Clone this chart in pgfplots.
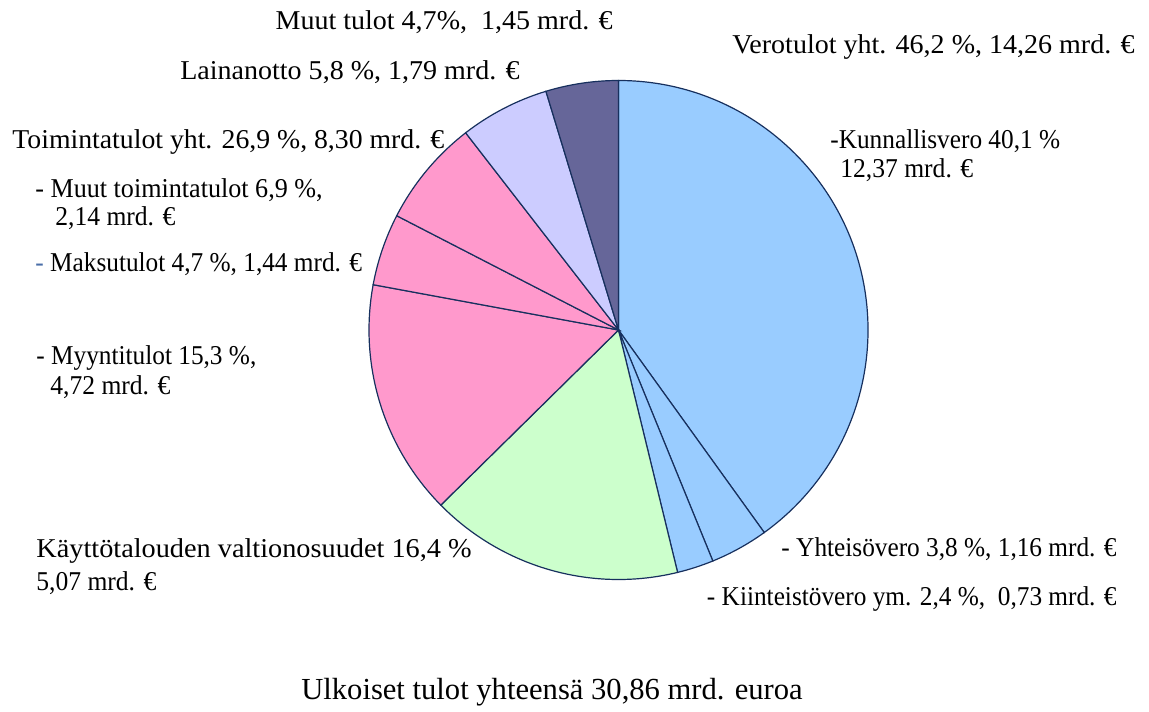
\documentclass[border=0pt]{standalone}
\usepackage{pgfplots}
\pgfplotsset{compat=1.18}
\usepackage{graphicx}
\usepackage{fontspec}
\setmainfont{Liberation Serif}
\definecolor{vero}{HTML}{99CCFF}
\definecolor{valt}{HTML}{CCFFCC}
\definecolor{toim}{HTML}{FF99CC}
\definecolor{laina}{HTML}{CCCCFF}
\definecolor{muut}{HTML}{666699}
\definecolor{edge}{HTML}{17305E}
\definecolor{dash}{HTML}{4A6EA8}
% values in mrd. euroa, clockwise from 12 o'clock
\def\pievalues{12.37,1.16,0.73,5.07,4.72,1.44,2.14,1.79,1.45}
\def\pietotal{30.87}
\newcount\piek
\def\piecum{0}
\expandafter\xdef\csname pieang0\endcsname{90}
\foreach \v in \pievalues {%
  \global\advance\piek by 1
  \pgfmathsetmacro{\newcum}{\piecum+\v}%
  \xdef\piecum{\newcum}%
  \pgfmathsetmacro{\a}{90-\newcum/\pietotal*360}%
  \expandafter\xdef\csname pieang\the\piek\endcsname{\a}%
}
\newcommand{\sector}[3]{% fill, from index, to index
  \filldraw[fill=#1, draw=edge, line width=0.6bp] (axis cs:618.5,330) -- ++(\csname pieang#2\endcsname:124.75bp)
    arc[start angle=\csname pieang#2\endcsname, end angle=\csname pieang#3\endcsname, radius=124.75bp] -- cycle;}
\newcommand{\sx}[2]{\scalebox{#1}[1]{#2}}
\begin{document}
\begin{tikzpicture}
\begin{axis}[x=0.5bp, y=0.5bp, y dir=reverse, xmin=0, xmax=1149, ymin=0, ymax=711,
  hide axis, clip=false, scale only axis]
\path (axis cs:0,0) (axis cs:1149,711);
\sector{vero}{0}{1}
\sector{vero}{1}{2}
\sector{vero}{2}{3}
\sector{valt}{3}{4}
\sector{toim}{4}{5}
\sector{toim}{5}{6}
\sector{toim}{6}{7}
\sector{laina}{7}{8}
\sector{muut}{8}{9}
\begin{scope}[every node/.style={inner sep=0pt, font=\fontsize{13.6bp}{16bp}\selectfont}]
\node[anchor=east] at (axis cs:613,22) {\sx{1.03}{Muut tulot 4,7\%,\ \ 1,45 mrd. €}};
\node[anchor=east] at (axis cs:1135,47) {\sx{1.03}{Verotulot yht. 46,2 \%, 14,26 mrd. €}};
\node[anchor=east] at (axis cs:520,72) {\sx{1.03}{Lainanotto 5,8 \%, 1,79 mrd. €}};
\node[anchor=west] at (axis cs:12,142) {\sx{1.02}{Toimintatulot yht. 26,9 \%, 8,30 mrd. €}};
\node[anchor=west] at (axis cs:830,141) {\sx{0.93}{-Kunnallisvero 40,1 \%}};
\node[anchor=west] at (axis cs:840,170) {\sx{0.94}{12,37 mrd. €}};
\node[anchor=west] at (axis cs:35,190) {\sx{0.96}{- Muut toimintatulot 6,9 \%,}};
\node[anchor=west] at (axis cs:55,218) {\sx{0.94}{2,14 mrd. €}};
\node[anchor=west] at (axis cs:35,264) {\sx{0.93}{{\color{dash}-} Maksutulot 4,7 \%, 1,44 mrd. €}};
\node[anchor=west] at (axis cs:36,358) {\sx{0.93}{- Myyntitulot 15,3 \%,}};
\node[anchor=west] at (axis cs:50,387) {\sx{0.94}{4,72 mrd. €}};
\node[anchor=west] at (axis cs:36,551) {\sx{1.04}{Käyttötalouden valtionosuudet 16,4 \%}};
\node[anchor=west] at (axis cs:36,583) {\sx{0.94}{5,07 mrd. €}};
\node[anchor=east] at (axis cs:1117,549) {\sx{0.93}{- Yhteisövero 3,8 \%, 1,16 mrd. €}};
\node[anchor=east] at (axis cs:1117,599) {\sx{0.93}{- Kiinteistövero ym. 2,4 \%,\ \ 0,73 mrd. €}};
\node[anchor=center, font=\fontsize{15.3bp}{18bp}\selectfont] at (axis cs:552,692) {Ulkoiset tulot yhteensä 30,86 mrd. euroa};
\end{scope}
\end{axis}
\end{tikzpicture}
\end{document}
